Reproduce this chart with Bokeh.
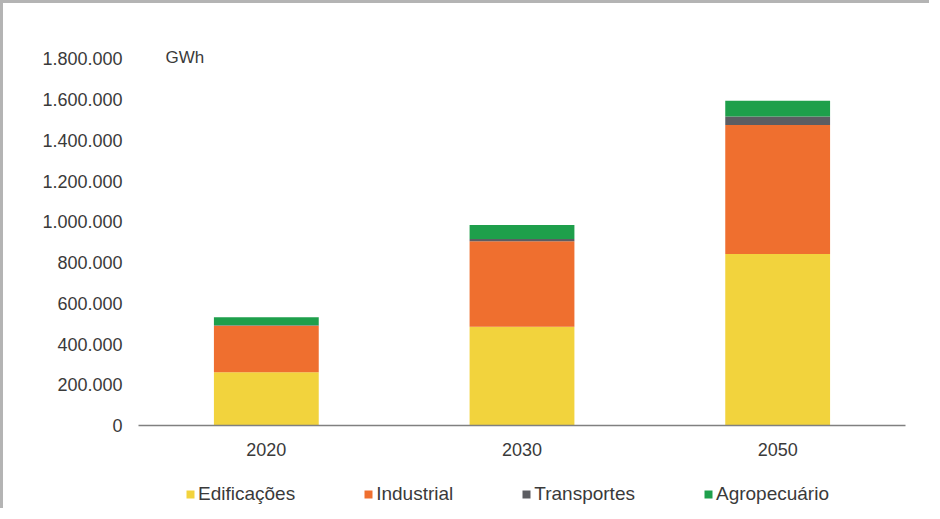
from bokeh.plotting import figure
from bokeh.layouts import column
from bokeh.models import Legend, LegendItem, FixedTicker, Label, ColumnDataSource
from bokeh.embed import file_html
from bokeh.resources import INLINE

years = ["2020", "2030", "2050"]
series = ["Edificações", "Industrial", "Transportes", "Agropecuário"]
edificacoes = [261000, 485000, 842000]
industrial = [229000, 419000, 633000]
transportes = [2000, 12000, 42000]
agropecuario = [40000, 68000, 77000]
colors = ["#F2D33D", "#EF6F2F", "#5C5D62", "#1E9F4B"]
tick_values = [0, 200000, 400000, 600000, 800000, 1000000, 1200000, 1400000, 1600000, 1800000]
tick_labels = ["0", "200.000", "400.000", "600.000", "800.000", "1.000.000",
               "1.200.000", "1.400.000", "1.600.000", "1.800.000"]
unit_label = "GWh"

FONT = "Liberation Sans"
TXT = "#3a3a3a"
BORDER = "3px solid #b4b4b4"

source = ColumnDataSource(dict(year=years, Edificações=edificacoes, Industrial=industrial,
                               Transportes=transportes, Agropecuário=agropecuario))

p = figure(x_range=years, y_range=(0, 1900000), width=929, height=465,
           output_backend="svg", toolbar_location=None,
           min_border_left=135, min_border_right=27, min_border_top=35, min_border_bottom=43)
p.styles = {"border-left": BORDER, "border-top": BORDER}

p.vbar_stack(series, x="year", width=0.41, color=colors, source=source, line_width=0)

p.outline_line_color = None
p.xgrid.grid_line_color = None
p.ygrid.grid_line_color = None
p.background_fill_color = "white"
p.border_fill_color = "white"

p.yaxis.ticker = FixedTicker(ticks=tick_values)
p.yaxis.major_label_overrides = {v: l for v, l in zip(tick_values, tick_labels)}
p.yaxis.axis_line_color = None
p.yaxis.major_tick_line_color = None
p.yaxis.minor_tick_line_color = None
p.yaxis.major_label_standoff = 10
p.yaxis.major_label_text_font = FONT
p.yaxis.major_label_text_font_size = "18px"
p.yaxis.major_label_text_color = TXT

p.xaxis.axis_line_color = "#808080"
p.xaxis.axis_line_width = 1.5
p.xaxis.major_tick_line_color = None
p.xaxis.minor_tick_line_color = None
p.xaxis.major_label_standoff = 11
p.xaxis.major_label_text_font = FONT
p.xaxis.major_label_text_font_size = "18px"
p.xaxis.major_label_text_color = TXT
p.x_range.range_padding = 0.0

p.add_layout(Label(x=27, y=tick_values[-1], x_units="screen", y_units="data", y_offset=1,
                   text=unit_label, text_font=FONT, text_font_size="17px", text_color=TXT,
                   text_baseline="middle"))

# legend strip below the chart (its frame is aligned with the chart's frame)
leg = figure(width=929, height=43, output_backend="svg", toolbar_location=None,
             x_range=(0, 1), y_range=(0, 1),
             min_border_left=0, min_border_right=0, min_border_top=0, min_border_bottom=0)
leg.styles = {"border-left": BORDER}
leg.axis.visible = False
leg.grid.visible = False
leg.outline_line_color = None
leg.background_fill_color = "white"
leg.border_fill_color = "white"
leg_renderers = [leg.vbar(x=[0.5], top=[0], bottom=[0], width=0.0, fill_color=c,
                          line_color=None, line_width=0)
                 for c in colors]

legend = Legend(items=[LegendItem(label=s, renderers=[r]) for s, r in zip(series, leg_renderers)],
                orientation="horizontal", location=(47, 3),
                glyph_width=10, glyph_height=10, label_standoff=3, spacing=68,
                label_height=20, label_text_font=FONT, label_text_font_size="19px",
                label_text_color=TXT, label_text_baseline="middle",
                border_line_color=None, background_fill_alpha=0, margin=0, padding=0)
leg.add_layout(legend, "center")

layout = column(p, leg, spacing=0)
open("out.html", "w").write(file_html(layout, INLINE))
